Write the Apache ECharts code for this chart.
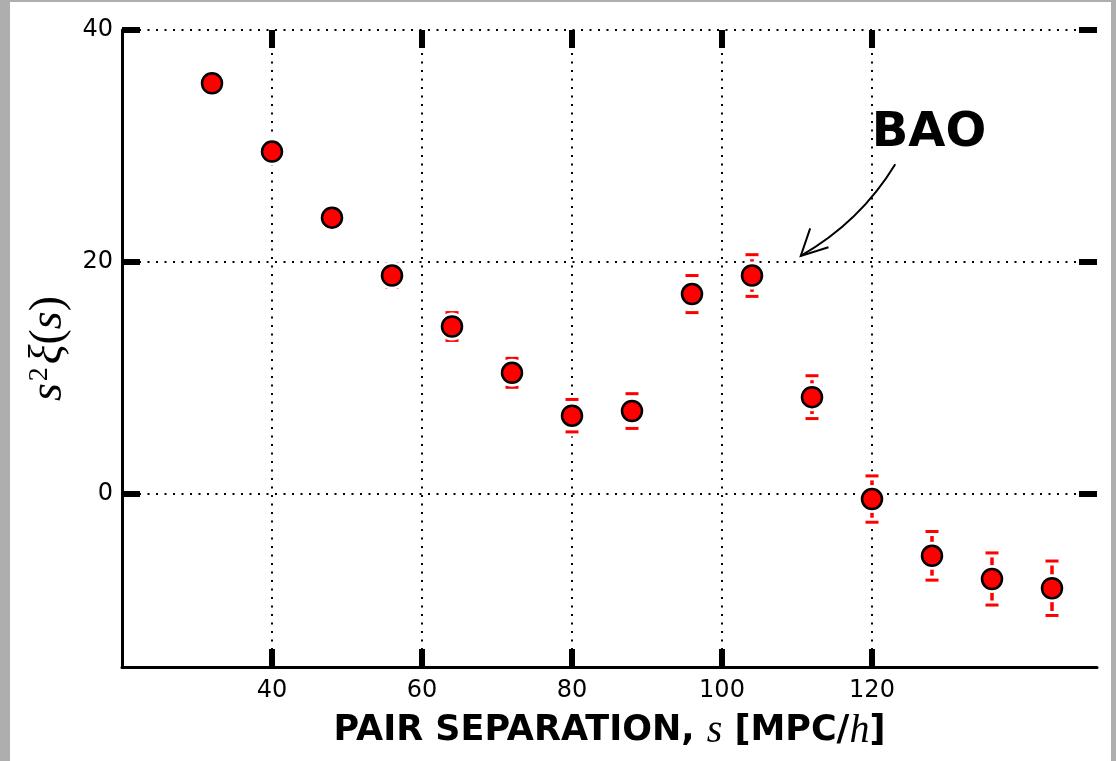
<!DOCTYPE html>
<html>
<head>
<meta charset="utf-8">
<script src="https://cdn.jsdelivr.net/npm/echarts@6/dist/echarts.min.js"></script>
<style>
  html, body { margin: 0; padding: 0; width: 1116px; height: 761px; overflow: hidden; background: #aeaeae; }
  #paper { position: absolute; left: 10px; top: 2px; width: 1101px; height: 759px; background: #ffffff; }
  #chart { position: absolute; left: 0; top: 0; width: 1116px; height: 761px; }
</style>
</head>
<body>
<div id="paper"></div>
<div id="chart"></div>
<script>
// Two-point correlation function (scaled by s^2) versus pair separation
const separation  = [32, 40, 48, 56, 64, 72, 80, 88, 96, 104, 112, 120, 128, 136, 144];
const correlation = [35.4, 29.5, 23.8, 18.8, 14.4, 10.4, 6.7, 7.1, 17.2, 18.8, 8.3, -0.5, -5.4, -7.4, -8.2];
const errors      = [0.6, 0.7, 0.8, 1.0, 1.2, 1.25, 1.4, 1.5, 1.6, 1.8, 1.85, 2.0, 2.1, 2.25, 2.35];

const xTicks = [40, 60, 80, 100, 120];
const yTicks = [0, 20, 40];

// BAO annotation: arrow tip, arrow tail and label centre (data units)
const baoTip   = [110.5, 20.5];
const baoTail  = [123.1, 28.4];
const baoLabel = [127.6, 31.1];

const INK = '#000000';
const RED = '#ff0000';
const SANS = '"DejaVu Sans", sans-serif';
const SERIF = '"Liberation Serif", "DejaVu Serif", serif';

const points = separation.map((s, i) => [s, correlation[i]]);
const errorData = separation.map((s, i) => [s, correlation[i], errors[i]]);

function renderError(params, api) {
  const x = api.value(0), y = api.value(1), e = api.value(2);
  const top = api.coord([x, y + e]);
  const bot = api.coord([x, y - e]);
  const c = api.coord([x, y]);
  const cap = (p, half, stroke, w) => ({
    type: 'line',
    shape: { x1: p[0] - half, y1: p[1], x2: p[0] + half, y2: p[1] },
    style: { stroke: stroke, lineWidth: w }
  });
  return {
    type: 'group',
    children: [
      { type: 'line', shape: { x1: top[0], y1: top[1], x2: bot[0], y2: bot[1] },
        style: { stroke: RED, lineWidth: 3.5 } },
      cap(top, 8.5, '#ffffff', 9),
      cap(bot, 8.5, '#ffffff', 9),
      cap(top, 6.5, RED, 3),
      cap(bot, 6.5, RED, 3),
      { type: 'circle', shape: { cx: c[0], cy: c[1], r: 14 }, style: { fill: '#ffffff' } }
    ]
  };
}

function renderAnnotation(params, api) {
  const tip = api.coord([api.value(0), api.value(1)]);
  const tail = api.coord([api.value(2), api.value(3)]);
  const lab = api.coord([api.value(4), api.value(5)]);
  const dx = tail[0] - tip[0], dy = tail[1] - tip[1];
  const len = Math.sqrt(dx * dx + dy * dy);
  const ux = dx / len, uy = dy / len;
  // bow the shaft slightly towards the lower right
  const px = -uy, py = ux;
  const sgn = (px > 0) ? 1 : -1;
  const bow = 0.13 * len * sgn;
  const cx = (tip[0] + tail[0]) / 2 + px * bow;
  const cy = (tip[1] + tail[1]) / 2 + py * bow;
  const head = 29, ang = 27 * Math.PI / 180;
  const arm = (a) => [tip[0] + head * (ux * Math.cos(a) - uy * Math.sin(a)),
                      tip[1] + head * (ux * Math.sin(a) + uy * Math.cos(a))];
  return {
    type: 'group',
    children: [
      { type: 'bezierCurve',
        shape: { x1: tail[0], y1: tail[1], x2: tip[0], y2: tip[1], cpx1: cx, cpy1: cy },
        style: { stroke: INK, lineWidth: 2, fill: null } },
      { type: 'polyline',
        shape: { points: [arm(-ang), tip, arm(ang)] },
        style: { stroke: INK, lineWidth: 2, fill: null } },
      { type: 'text',
        style: { text: 'BAO', x: lab[0], y: lab[1], align: 'center', verticalAlign: 'middle',
                 fontFamily: SANS, fontSize: 48, fontWeight: 'bold', fill: INK } }
    ]
  };
}

const gridLines = xTicks.map(v => ({ xAxis: v })).concat(yTicks.map(v => ({ yAxis: v })));

const tickStyle = { color: INK, width: 6 };

const chart = echarts.init(document.getElementById('chart'), null, { renderer: 'canvas' });
chart.setOption({
  backgroundColor: 'transparent',
  animation: false,
  grid: { left: 122, top: 30, right: 19, bottom: 94, containLabel: false },
  xAxis: [
    {
      type: 'value', min: 20, max: 150, interval: 20, position: 'bottom',
      axisLine: { show: true, onZero: false, lineStyle: { color: INK, width: 3 } },
      axisTick: { show: true, inside: true, length: 18, customValues: xTicks, lineStyle: tickStyle },
      axisLabel: { show: true, customValues: xTicks, color: INK, fontFamily: SANS, fontSize: 24, margin: 12 },
      splitLine: { show: false },
      name: 'PAIR SEPARATION, {i|s} [MPC/{i|h}]',
      nameLocation: 'middle', nameGap: 44,
      nameTextStyle: {
        color: INK, fontFamily: SANS, fontSize: 35, fontWeight: 'bold',
        rich: { i: { color: INK, fontFamily: SERIF, fontStyle: 'italic', fontWeight: 'normal', fontSize: 40 } }
      }
    },
    {
      type: 'value', min: 20, max: 150, interval: 20, position: 'top',
      axisLine: { show: false, onZero: false },
      axisTick: { show: true, inside: true, length: 18, customValues: xTicks, lineStyle: tickStyle },
      axisLabel: { show: false },
      splitLine: { show: false }
    }
  ],
  yAxis: [
    {
      type: 'value', min: -15, max: 40, interval: 5, position: 'left',
      axisLine: { show: true, onZero: false, lineStyle: { color: INK, width: 3 } },
      axisTick: { show: true, inside: true, length: 18, customValues: yTicks, lineStyle: tickStyle },
      axisLabel: { show: true, customValues: yTicks, color: INK, fontFamily: SANS, fontSize: 24, margin: 9 },
      splitLine: { show: false },
      name: '{i|s}{sup|2}{i|ξ}{r|(}{i|s}{r|)}',
      nameLocation: 'middle', nameGap: 50,
      nameTextStyle: {
        color: INK,
        rich: {
          i: { color: INK, fontFamily: SERIF, fontStyle: 'italic', fontSize: 46 },
          r: { color: INK, fontFamily: SERIF, fontSize: 46 },
          sup: { color: INK, fontFamily: SERIF, fontSize: 28, verticalAlign: 'top', padding: [0, 3, 0, 2] }
        }
      }
    },
    {
      type: 'value', min: -15, max: 40, interval: 5, position: 'right',
      axisLine: { show: false, onZero: false },
      axisTick: { show: true, inside: true, length: 18, customValues: yTicks, lineStyle: tickStyle },
      axisLabel: { show: false },
      splitLine: { show: false }
    }
  ],
  series: [
    {
      type: 'custom', name: 'error', xAxisIndex: 0, yAxisIndex: 0, z: 3,
      renderItem: renderError, data: errorData, encode: { x: 0, y: [1, 2] }, silent: true
    },
    {
      type: 'scatter', name: 'xi', xAxisIndex: 0, yAxisIndex: 0, z: 4,
      data: points, symbol: 'circle', symbolSize: 20,
      itemStyle: { color: RED, borderColor: INK, borderWidth: 2.5, opacity: 1 },
      markLine: {
        z: 1, silent: true, symbol: ['none', 'none'], label: { show: false },
        lineStyle: { color: INK, width: 2, type: [2, 6.5], opacity: 1 },
        emphasis: { disabled: true },
        data: gridLines
      }
    },
    {
      type: 'custom', name: 'bao', xAxisIndex: 0, yAxisIndex: 0, z: 5,
      renderItem: renderAnnotation, silent: true,
      data: [[baoTip[0], baoTip[1], baoTail[0], baoTail[1], baoLabel[0], baoLabel[1]]],
      encode: { x: [0, 2, 4], y: [1, 3, 5] }
    }
  ]
});
</script>
</body>
</html>
